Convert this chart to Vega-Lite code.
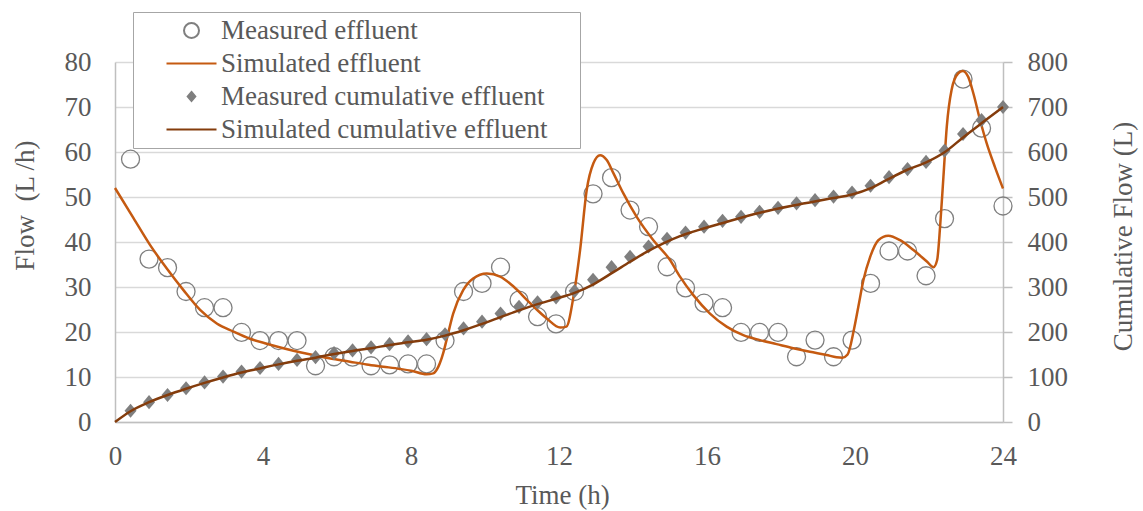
{
  "$schema": "https://vega.github.io/schema/vega-lite/v6.json",
  "width": 888,
  "height": 360,
  "autosize": {"type": "none"},
  "padding": {"left": 115, "top": 62, "right": 140, "bottom": 89},
  "background": "white",
  "config": {
    "font": "Liberation Serif",
    "view": {"stroke": null},
    "axis": {
      "labelFont": "Liberation Serif",
      "titleFont": "Liberation Serif",
      "labelFontSize": 27,
      "titleFontSize": 27,
      "labelColor": "#595959",
      "titleColor": "#595959",
      "titleFontWeight": "normal",
      "domainColor": "#BFBFBF",
      "domainWidth": 1.5,
      "tickColor": "#BFBFBF",
      "tickWidth": 1.5,
      "gridColor": "#D9D9D9",
      "gridWidth": 1.5,
      "labelFlush": false
    },
    "legend": {
      "orient": "none",
      "legendX": 18,
      "legendY": -50,
      "padding": 5,
      "strokeColor": "#A6A6A6",
      "fillColor": "white",
      "labelFont": "Liberation Serif",
      "labelFontSize": 27,
      "labelColor": "#595959",
      "labelLimit": 600,
      "symbolSize": 400,
      "symbolStrokeWidth": 2,
      "symbolOffset": 40,
      "labelOffset": 16,
      "rowPadding": 5
    }
  },
  "datasets": {
    "meas": [
      {"t": 0.42, "flow": 58.4, "cum": 25},
      {"t": 0.92, "flow": 36.2, "cum": 44},
      {"t": 1.42, "flow": 34.3, "cum": 60},
      {"t": 1.92, "flow": 29.0, "cum": 75},
      {"t": 2.42, "flow": 25.4, "cum": 88},
      {"t": 2.92, "flow": 25.4, "cum": 101},
      {"t": 3.42, "flow": 19.9, "cum": 112},
      {"t": 3.92, "flow": 18.1, "cum": 120},
      {"t": 4.42, "flow": 18.1, "cum": 129},
      {"t": 4.92, "flow": 18.1, "cum": 138},
      {"t": 5.42, "flow": 12.5, "cum": 144},
      {"t": 5.92, "flow": 14.5, "cum": 153},
      {"t": 6.42, "flow": 14.4, "cum": 159},
      {"t": 6.92, "flow": 12.5, "cum": 166},
      {"t": 7.42, "flow": 12.7, "cum": 173},
      {"t": 7.92, "flow": 12.9, "cum": 179},
      {"t": 8.42, "flow": 12.9, "cum": 184},
      {"t": 8.92, "flow": 18.1, "cum": 195},
      {"t": 9.42, "flow": 29.0, "cum": 208},
      {"t": 9.92, "flow": 30.8, "cum": 223},
      {"t": 10.42, "flow": 34.4, "cum": 241},
      {"t": 10.92, "flow": 27.1, "cum": 256},
      {"t": 11.42, "flow": 23.4, "cum": 266},
      {"t": 11.92, "flow": 21.8, "cum": 277},
      {"t": 12.42, "flow": 29.0, "cum": 291},
      {"t": 12.92, "flow": 50.7, "cum": 316},
      {"t": 13.42, "flow": 54.3, "cum": 344},
      {"t": 13.92, "flow": 47.1, "cum": 367},
      {"t": 14.42, "flow": 43.4, "cum": 390},
      {"t": 14.92, "flow": 34.5, "cum": 407},
      {"t": 15.42, "flow": 29.8, "cum": 421},
      {"t": 15.92, "flow": 26.4, "cum": 434},
      {"t": 16.42, "flow": 25.4, "cum": 447},
      {"t": 16.92, "flow": 19.9, "cum": 456},
      {"t": 17.42, "flow": 19.9, "cum": 467},
      {"t": 17.92, "flow": 19.9, "cum": 476},
      {"t": 18.42, "flow": 14.5, "cum": 486},
      {"t": 18.92, "flow": 18.2, "cum": 493},
      {"t": 19.42, "flow": 14.5, "cum": 501},
      {"t": 19.92, "flow": 18.2, "cum": 510},
      {"t": 20.42, "flow": 30.8, "cum": 525},
      {"t": 20.92, "flow": 38.0, "cum": 544},
      {"t": 21.42, "flow": 38.0, "cum": 562},
      {"t": 21.92, "flow": 32.5, "cum": 578},
      {"t": 22.42, "flow": 45.2, "cum": 603},
      {"t": 22.92, "flow": 76.2, "cum": 640},
      {"t": 23.42, "flow": 65.3, "cum": 671},
      {"t": 24.0, "flow": 48.0, "cum": 700}
    ],
    "simE": [
      {"t": 0, "v": 52.0}, {"t": 0.5, "v": 45.3}, {"t": 0.95, "v": 39.3}, {"t": 1.4, "v": 34.1},
      {"t": 1.85, "v": 29.3}, {"t": 2.3, "v": 24.9}, {"t": 2.75, "v": 21.9}, {"t": 3.2, "v": 20.1},
      {"t": 3.65, "v": 18.5}, {"t": 4.1, "v": 17.4}, {"t": 4.55, "v": 16.4}, {"t": 5.0, "v": 15.5},
      {"t": 5.45, "v": 14.7}, {"t": 5.9, "v": 14.0}, {"t": 6.35, "v": 13.4}, {"t": 6.8, "v": 12.8},
      {"t": 7.25, "v": 12.3}, {"t": 7.7, "v": 11.8}, {"t": 8.0, "v": 11.4}, {"t": 8.42, "v": 10.6},
      {"t": 8.6, "v": 10.8}, {"t": 8.74, "v": 12.3}, {"t": 8.87, "v": 15.3}, {"t": 8.96, "v": 18.2},
      {"t": 9.14, "v": 24.1}, {"t": 9.41, "v": 29.3}, {"t": 9.68, "v": 31.9}, {"t": 10.05, "v": 33.0},
      {"t": 10.41, "v": 32.3}, {"t": 10.77, "v": 30.1}, {"t": 11.22, "v": 26.4}, {"t": 11.67, "v": 23.0},
      {"t": 12.03, "v": 21.0}, {"t": 12.2, "v": 21.2}, {"t": 12.39, "v": 27.8}, {"t": 12.57, "v": 38.2},
      {"t": 12.75, "v": 51.6}, {"t": 12.93, "v": 57.5}, {"t": 13.11, "v": 59.3}, {"t": 13.29, "v": 58.2},
      {"t": 13.47, "v": 55.3}, {"t": 13.74, "v": 50.8}, {"t": 14.1, "v": 45.6}, {"t": 14.55, "v": 40.4},
      {"t": 15.0, "v": 36.0}, {"t": 15.27, "v": 32.3}, {"t": 15.63, "v": 28.2}, {"t": 16.08, "v": 24.1},
      {"t": 16.53, "v": 21.2}, {"t": 16.98, "v": 19.3}, {"t": 17.43, "v": 18.2}, {"t": 17.88, "v": 17.3},
      {"t": 18.33, "v": 16.4}, {"t": 18.78, "v": 15.6}, {"t": 19.23, "v": 14.9}, {"t": 19.5, "v": 14.4},
      {"t": 19.66, "v": 14.3}, {"t": 19.8, "v": 15.0}, {"t": 19.97, "v": 20.5}, {"t": 20.09, "v": 25.6},
      {"t": 20.23, "v": 31.6}, {"t": 20.41, "v": 36.7}, {"t": 20.63, "v": 40.4}, {"t": 20.9, "v": 41.4},
      {"t": 21.22, "v": 40.4}, {"t": 21.58, "v": 38.2}, {"t": 21.95, "v": 35.6}, {"t": 22.12, "v": 34.4},
      {"t": 22.22, "v": 36.0}, {"t": 22.3, "v": 43.4}, {"t": 22.39, "v": 54.5}, {"t": 22.48, "v": 65.6},
      {"t": 22.61, "v": 73.8}, {"t": 22.79, "v": 77.5}, {"t": 22.91, "v": 78.0}, {"t": 23.06, "v": 76.7},
      {"t": 23.2, "v": 73.0}, {"t": 23.38, "v": 67.1}, {"t": 23.56, "v": 61.9}, {"t": 23.78, "v": 56.7},
      {"t": 24.0, "v": 51.9}
    ],
    "simC": [
      {"t": 0, "v": 0}, {"t": 0.42, "v": 24}, {"t": 0.92, "v": 44}, {"t": 1.42, "v": 60},
      {"t": 1.92, "v": 74}, {"t": 2.42, "v": 87}, {"t": 2.92, "v": 99}, {"t": 3.42, "v": 110},
      {"t": 3.92, "v": 119}, {"t": 4.42, "v": 128}, {"t": 4.92, "v": 136}, {"t": 5.42, "v": 143},
      {"t": 5.92, "v": 151}, {"t": 6.42, "v": 158}, {"t": 6.92, "v": 164}, {"t": 7.42, "v": 171},
      {"t": 7.92, "v": 177}, {"t": 8.42, "v": 183}, {"t": 8.92, "v": 192}, {"t": 9.42, "v": 204},
      {"t": 9.92, "v": 218}, {"t": 10.42, "v": 233}, {"t": 10.92, "v": 248}, {"t": 11.42, "v": 262},
      {"t": 11.92, "v": 274}, {"t": 12.42, "v": 287}, {"t": 12.93, "v": 306}, {"t": 13.47, "v": 333},
      {"t": 13.92, "v": 356}, {"t": 14.37, "v": 378}, {"t": 14.82, "v": 397}, {"t": 15.27, "v": 413},
      {"t": 15.63, "v": 423}, {"t": 16.5, "v": 444}, {"t": 17.43, "v": 465}, {"t": 18.33, "v": 481},
      {"t": 19.23, "v": 495}, {"t": 19.95, "v": 506}, {"t": 20.41, "v": 519}, {"t": 20.86, "v": 538},
      {"t": 21.4, "v": 560}, {"t": 21.95, "v": 578}, {"t": 22.43, "v": 600}, {"t": 22.93, "v": 633},
      {"t": 23.47, "v": 667}, {"t": 24.0, "v": 700}
    ]
  },
  "layer": [
    {
      "layer": [
        {
          "data": {"name": "meas"},
          "mark": {"type": "point", "size": 576, "strokeWidth": 1.3, "opacity": 1},
          "encoding": {
            "x": {"field": "t", "type": "quantitative", "scale": {"domain": [0, 24], "nice": false, "padding": 0},
              "axis": {"title": "Time (h)", "values": [0, 4, 8, 12, 16, 20, 24], "grid": false, "ticks": false, "labelPadding": 21, "titleX": 447, "titleY": 73, "titleBaseline": "middle", "titleAlign": "center"}},
            "y": {"field": "flow", "type": "quantitative", "scale": {"domain": [0, 80], "nice": false},
              "axis": {"title": "Flow\u00a0 (L /h)", "orient": "left", "values": [0, 10, 20, 30, 40, 50, 60, 70, 80], "grid": true, "ticks": false, "labelPadding": 24, "titleAngle": 270, "titleX": -90, "titleY": 143, "titleBaseline": "middle", "titleAlign": "center"}},
            "stroke": {
              "datum": "Measured effluent", "type": "nominal",
              "scale": {"domain": ["Measured effluent", "Simulated effluent", "Measured cumulative effluent", "Simulated cumulative effluent"], "range": ["#7F7F7F", "#C55A11", "#7F7F7F", "#843C0C"]},
              "legend": {"title": null, "labelExpr": "datum.label + '\u00a0\u00a0\u00a0\u00a0\u200b'"}
            },
            "fill": {
              "datum": "Measured effluent", "type": "nominal",
              "scale": {"domain": ["Measured effluent", "Simulated effluent", "Measured cumulative effluent", "Simulated cumulative effluent"], "range": ["transparent", "transparent", "#7F7F7F", "transparent"]},
              "legend": {"title": null, "labelExpr": "datum.label + '\u00a0\u00a0\u00a0\u00a0\u200b'"}
            },
            "shape": {
              "datum": "Measured effluent", "type": "nominal",
              "scale": {"domain": ["Measured effluent", "Simulated effluent", "Measured cumulative effluent", "Simulated cumulative effluent"], "range": ["M-0.75,0A0.75,0.75,0,1,0,0.75,0A0.75,0.75,0,1,0,-0.75,0Z", "M-2.5,0H2.5", "M0,-0.45L0.38,0L0,0.45L-0.38,0Z", "M-2.5,0H2.5"]},
              "legend": {"title": null, "labelExpr": "datum.label + '\u00a0\u00a0\u00a0\u00a0\u200b'"}
            }
          }
        },
        {
          "data": {"name": "simE"},
          "mark": {"type": "line", "interpolate": "monotone", "strokeWidth": 2.5},
          "encoding": {
            "x": {"field": "t", "type": "quantitative", "scale": {"domain": [0, 24], "nice": false, "padding": 0},
              "axis": {"title": "Time (h)", "values": [0, 4, 8, 12, 16, 20, 24], "grid": false, "ticks": false, "labelPadding": 21, "titleX": 447, "titleY": 73, "titleBaseline": "middle", "titleAlign": "center"}},
            "y": {"field": "v", "type": "quantitative", "scale": {"domain": [0, 80], "nice": false},
              "axis": {"title": "Flow\u00a0 (L /h)", "orient": "left", "values": [0, 10, 20, 30, 40, 50, 60, 70, 80], "grid": true, "ticks": false, "labelPadding": 24, "titleAngle": 270, "titleX": -90, "titleY": 143, "titleBaseline": "middle", "titleAlign": "center"}},
            "stroke": {
              "datum": "Simulated effluent", "type": "nominal",
              "legend": {"title": null, "labelExpr": "datum.label + '\u00a0\u00a0\u00a0\u00a0\u200b'"}
            }
          }
        }
      ]
    },
    {
      "layer": [
        {
          "data": {"name": "meas"},
          "mark": {"type": "point", "size": 1000, "strokeWidth": 0, "opacity": 1},
          "encoding": {
            "x": {"field": "t", "type": "quantitative", "scale": {"domain": [0, 24], "nice": false, "padding": 0},
              "axis": {"title": "Time (h)", "values": [0, 4, 8, 12, 16, 20, 24], "grid": false, "ticks": false, "labelPadding": 21, "titleX": 447, "titleY": 73, "titleBaseline": "middle", "titleAlign": "center"}},
            "y": {"field": "cum", "type": "quantitative", "scale": {"domain": [0, 800], "nice": false},
              "axis": {"title": "Cumulative Flow (L)", "orient": "right", "values": [0, 100, 200, 300, 400, 500, 600, 700, 800], "grid": false, "ticks": true, "tickSize": 9, "labelPadding": 15, "titleAngle": 270, "titleX": 120, "titleY": 174, "titleBaseline": "middle", "titleAlign": "center"}},
            "stroke": {
              "datum": "Measured cumulative effluent", "type": "nominal",
              "legend": {"title": null, "labelExpr": "datum.label + '\u00a0\u00a0\u00a0\u00a0\u200b'"}
            },
            "fill": {
              "datum": "Measured cumulative effluent", "type": "nominal",
              "legend": {"title": null, "labelExpr": "datum.label + '\u00a0\u00a0\u00a0\u00a0\u200b'"}
            },
            "shape": {
              "datum": "Measured cumulative effluent", "type": "nominal",
              "legend": {"title": null, "labelExpr": "datum.label + '\u00a0\u00a0\u00a0\u00a0\u200b'"}
            }
          }
        },
        {
          "data": {"name": "simC"},
          "mark": {"type": "line", "interpolate": "monotone", "strokeWidth": 2.5},
          "encoding": {
            "x": {"field": "t", "type": "quantitative", "scale": {"domain": [0, 24], "nice": false, "padding": 0},
              "axis": {"title": "Time (h)", "values": [0, 4, 8, 12, 16, 20, 24], "grid": false, "ticks": false, "labelPadding": 21, "titleX": 447, "titleY": 73, "titleBaseline": "middle", "titleAlign": "center"}},
            "y": {"field": "v", "type": "quantitative", "scale": {"domain": [0, 800], "nice": false},
              "axis": {"title": "Cumulative Flow (L)", "orient": "right", "values": [0, 100, 200, 300, 400, 500, 600, 700, 800], "grid": false, "ticks": true, "tickSize": 9, "labelPadding": 15, "titleAngle": 270, "titleX": 120, "titleY": 174, "titleBaseline": "middle", "titleAlign": "center"}},
            "stroke": {
              "datum": "Simulated cumulative effluent", "type": "nominal",
              "legend": {"title": null, "labelExpr": "datum.label + '\u00a0\u00a0\u00a0\u00a0\u200b'"}
            }
          }
        }
      ]
    }
  ],
  "resolve": {"scale": {"y": "independent"}}
}
